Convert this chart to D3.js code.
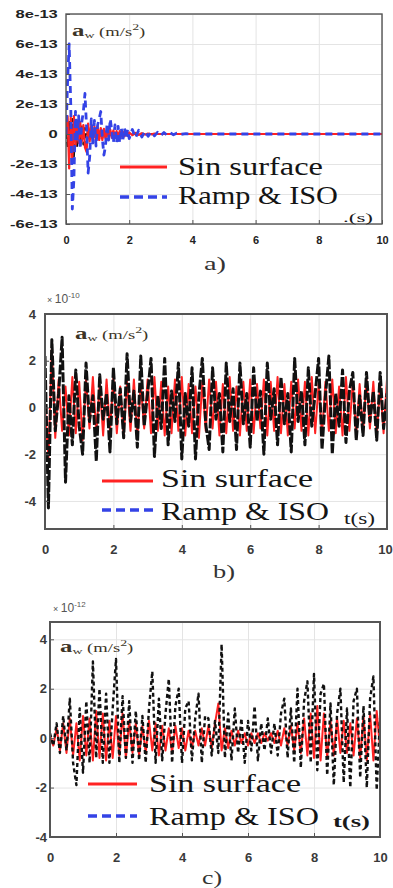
<!DOCTYPE html>
<html>
<head>
<meta charset="utf-8">
<script src="https://cdn.jsdelivr.net/npm/d3@7"></script>
<style>
  body { margin: 0; background: #fff; }
</style>
</head>
<body>
<svg id="chart" width="393" height="888" font-family="'Liberation Sans', Arial, sans-serif"></svg>
<script>
// ---- data ----
const xTicks = [0, 2, 4, 6, 8, 10];
const aYTicks = [-6, -4, -2, 0, 2, 4, 6, 8];      // x 1e-13
const bYTicks = [-4, -2, 0, 2, 4];                // x 1e-10
const cYTicks = [-4, -2, 0, 2, 4];                // x 1e-12
const legendNames = ["Sin surface", "Ramp & ISO"];
const panelCaptions = ["a)", "b)", "c)"];

// panel a : irregular sample times (s), values in 1e-13 m/s2
const aTime = [0, 0.05, 0.1, 0.15, 0.2, 0.25, 0.3, 0.35, 0.4, 0.45,
  0.5, 0.55, 0.6, 0.65, 0.7, 0.75, 0.8, 0.85, 0.9, 0.95,
  1.0, 1.05, 1.1, 1.15, 1.2, 1.25, 1.3, 1.35, 1.4, 1.45,
  1.5, 1.55, 1.6, 1.65, 1.7, 1.75, 1.8, 1.85, 1.9, 1.95,
  2.0, 2.1, 2.2, 2.3, 2.4, 2.5, 2.6, 2.7, 2.8, 2.9,
  3.0, 3.1, 3.2, 3.3, 3.4, 3.5, 3.6, 3.8, 4.0, 5,
  6, 7, 8, 9, 10];
const aIso = [0, 3.5, 6.0, 2.0, -5.0, -3.0, 1.5, -0.5, 1.2, -1.0,
  0.8, 1.5, 2.7, 0.5, -2.6, -1.5, 1.0, -0.6, 0.9, -0.8,
  0.6, 1.0, 1.5, -0.3, -1.4, -0.8, 0.7, -0.4, 1.0, 0.2,
  -0.6, 0.6, -0.6, 0.5, -0.6, 0.4, -0.4, 0.4, -0.3, 0.3,
  -0.3, 0.3, -0.25, 0.25, -0.2, 0.2, -0.15, 0.15, -0.12, 0.12,
  -0.1, 0.1, -0.08, 0.08, -0.05, 0.05, -0.03, 0.02, 0, 0,
  0, 0, 0, 0, 0];
const aSin = [0, 1.2, -2.3, 1.1, -1.8, 1.2, -0.8, 0.9, -0.6, 0.8,
  -0.5, 0.6, -0.9, -1.2, 0.7, -0.5, 0.6, -0.5, 0.5, -0.4,
  0.5, -0.4, 0.4, -0.4, 0.35, -0.3, 0.3, -0.3, 0.3, -0.25,
  0.25, -0.2, 0.2, -0.2, 0.2, -0.15, 0.15, -0.15, 0.12, -0.1,
  0.1, -0.08, 0.08, -0.06, 0.05, -0.04, 0.03, -0.02, 0.02, 0,
  0, 0, 0, 0, 0, 0, 0, 0, 0, 0,
  0, 0, 0, 0, 0];
const aRamp = [0, -0.8, 0.8, -1.2, 1.0, -1.5, 0.7, -0.8, 0.6, -0.6,
  0.5, -0.7, 0.4, -0.8, 0.5, -0.4, 0.4, -0.4, 0.3, -0.3,
  0.3, -0.3, 0.25, -0.25, 0.2, -0.2, 0.2, -0.2, 0.15, -0.15,
  0.15, -0.12, 0.12, -0.1, 0.1, -0.1, 0.08, -0.08, 0.06, -0.06,
  0.05, -0.04, 0.03, -0.02, 0.02, 0, 0, 0, 0, 0,
  0, 0, 0, 0, 0, 0, 0, 0, 0, 0,
  0, 0, 0, 0, 0];

// panels b and c : samples every 0.1 s from 0 to 10 s
const sampleTime = d3.range(101).map(i => i / 10);

// panel b, values in 1e-10 m/s2
const bRamp = [2.2, -4.3, 2.9, -1.0, 0.6, 3.0, -3.2, 0.5, -1.6, 1.6,
  -0.8, -2.0, 1.9, -0.6, 0.5, -2.3, 1.4, -0.5, 0.6, -1.9,
  1.7, -0.7, 0.8, -1.3, 2.3, -0.6, 0.7, -1.7, 2.2, -0.8,
  0.6, 2.1, -2.1, 0.5, -0.9, 2.1, -1.6, 0.7, -0.6, 1.9,
  -2.2, 0.6, -0.8, 1.7, -2.2, 0.5, 2.1, -0.7, -1.8, 1.7,
  -0.5, 0.6, -1.9, 1.9, -0.6, 0.8, -1.8, 1.9, -0.7, 0.6,
  -1.7, 1.7, -0.6, 0.7, -2.0, 1.9, -0.5, 0.8, -1.6, 1.3,
  -0.7, 0.6, -1.9, 2.1, -0.6, 0.7, -1.6, 1.7, -0.8, 0.6,
  2.1, -1.8, 0.5, 2.2, -2.0, 0.6, -0.8, 1.6, -1.5, 0.7,
  1.5, -1.4, 0.5, -1.2, 1.5, -0.6, 0.7, -1.4, 1.5, -0.9,
  0.6];
const bSin = [0, -2.2, 2.5, -1.3, 1.2, -1.0, 0.9, -1.2, 1.3, -1.1,
  1.1, -1.4, 1.2, -0.9, 1.3, -1.1, 1.0, -1.2, 1.2, -1.0,
  1.3, -1.1, 0.9, -1.2, 1.1, -1.0, 1.2, -1.3, 1.0, -0.9,
  1.2, -1.1, 1.3, -1.0, 1.1, -1.2, 0.9, -1.1, 1.2, -1.0,
  1.3, -1.2, 1.0, -1.1, 0.9, -1.3, 1.1, -1.0, 1.2, -0.9,
  1.1, -1.2, 1.0, -1.1, 1.3, -1.0, 0.9, -1.2, 1.1, -1.0,
  1.2, -1.1, 1.0, -0.9, 1.2, -1.2, 1.1, -1.0, 1.3, -1.1,
  1.0, -1.2, 1.1, -0.9, 1.2, -1.0, 1.1, -1.2, 1.3, -1.1,
  1.0, -1.2, 1.1, -1.0, 1.2, -1.1, 0.9, -1.2, 1.3, -1.0,
  1.1, -1.2, 1.0, -1.1, 1.2, -0.9, 1.1, -1.2, 1.0, -1.1,
  1.2];

// panel c, values in 1e-12 m/s2
const cRamp = [0.2, -0.3, 0.6, -0.6, 0.9, -0.5, 1.6, -1.0, -1.9, 1.2,
  -1.4, 1.5, -1.0, 3.1, -0.8, 2.0, -1.0, 1.8, -1.0, 1.2,
  3.2, -1.0, 1.7, -0.8, 1.5, -1.0, 1.1, -0.9, 0.9, -1.0,
  1.2, 2.7, -1.0, 1.6, -0.9, 1.0, 2.4, -1.0, 1.3, 2.0,
  -1.0, 1.2, 1.5, -0.9, 0.8, 1.8, -1.0, 0.9, 0.8, -0.7,
  0.7, -0.6, 3.8, -0.8, 1.0, -0.9, 1.2, -0.6, 0.8, -1.0,
  0.7, -0.5, 1.3, -0.9, 0.6, -0.5, 0.8, -0.6, 0.6, -0.7,
  1.0, 1.6, -0.8, 1.2, -1.0, 2.0, -1.2, 1.5, 2.3, -1.0,
  2.6, -1.3, 1.8, 2.2, -1.5, 1.4, -1.9, 1.0, 2.0, -1.8,
  1.2, -2.0, 1.5, 2.0, -1.6, 1.3, -2.0, 1.6, 2.5, -2.1,
  0.8];
const cSin = [0.1, -0.3, 0.4, -0.5, 0.6, -0.6, 0.8, -0.7, 0.6, -0.9,
  0.9, -0.7, 0.8, -0.9, 1.1, -0.8, 1.0, -0.9, 0.7, -0.8,
  0.9, -0.7, 1.0, -0.8, 0.7, -0.6, 0.6, -0.7, 0.5, -0.6,
  0.7, -0.5, 0.6, -0.7, 0.5, -0.5, 0.4, -0.6, 0.5, -0.4,
  0.4, -0.5, 0.3, -0.4, 0.3, -0.3, 0.4, -0.3, 0.5, -0.4,
  0.6, 1.4, -0.5, 0.4, -0.4, 0.3, -0.3, 0.3, -0.2, 0.2,
  -0.3, 0.2, -0.2, 0.2, -0.2, 0.2, -0.1, 0.2, -0.2, 0.3,
  -0.3, 0.4, -0.3, 0.5, -0.5, 0.6, -0.6, 0.8, -0.7, 1.0,
  -0.8, 1.3, -0.9, 1.0, -0.8, 0.7, -0.7, 0.8, -0.6, 0.7,
  -0.6, 0.6, -0.7, 0.8, -0.8, 0.9, -0.9, 1.0, -0.9, 1.1,
  -0.4];

const RED = "#ff2222", BLUE = "#3443e6", BLACK = "#111";
const SERIF = "'Liberation Serif', 'Times New Roman', serif";

const svg = d3.select("#chart");
svg.append("rect").attr("width", 393).attr("height", 888).attr("fill", "#fff");

const panels = [
  {
    id: "a", left: 66, right: 382, top: 14, bottom: 224, yDomain: [-6, 8], yTicks: aYTicks,
    fmt: d => d === 0 ? "0" : d + "e-13",
    series: [
      { t: aTime, v: aRamp, color: BLACK, width: 2, dash: "5,3" },
      { t: aTime, v: aSin, color: RED, width: 2.2 },
      { t: aTime, v: aIso, color: BLUE, width: 2.8, dash: "7,5" }
    ],
    legend: { lineX: [120, 167], y1: 167, y2: 197, textX: 178, base1: 175, base2: 204, w1: 145, w2: 160 },
    unit: { x: 72, y: 36, w: 78 },
    tlabel: { text: ".(s)", x: 343, y: 222, size: 13, w: 30 },
    caption: { x: 215, y: 270, w: 22 },
    box: 1.4
  },
  {
    id: "b", left: 45, right: 387, top: 314, bottom: 529, yDomain: [-5.2, 4], yTicks: bYTicks,
    fmt: d => d,
    series: [
      { t: sampleTime, v: bSin, color: RED, width: 2 },
      { t: sampleTime, v: bRamp, color: BLACK, width: 3, dash: "10,2" }
    ],
    legend: { lineX: [102, 153], y1: 481, y2: 510, textX: 161, base1: 487, base2: 520, w1: 152, w2: 168 },
    unit: { x: 75, y: 339, w: 80 },
    tlabel: { text: "t(s)", x: 344, y: 524, size: 16, w: 31 },
    exp: { text: "-10", x: 47, y: 303 },
    caption: { x: 224, y: 578, w: 22 },
    box: 2
  },
  {
    id: "c", left: 50, right: 380, top: 622, bottom: 837, yDomain: [-4, 4.7], yTicks: cYTicks,
    fmt: d => d,
    series: [
      { t: sampleTime, v: cSin, color: RED, width: 2 },
      { t: sampleTime, v: cRamp, color: BLACK, width: 2.4, dash: "4,3" }
    ],
    legend: { lineX: [88, 137], y1: 784, y2: 816, textX: 149, base1: 792, base2: 825, w1: 152, w2: 170 },
    unit: { x: 60, y: 652, w: 83 },
    tlabel: { text: "t(s)", x: 333, y: 827, size: 16, w: 37, bold: true },
    exp: { text: "-12", x: 53, y: 612 },
    caption: { x: 212, y: 884, w: 20 },
    box: 2
  }
];

panels.forEach((p, i) => drawPanel(p, i));

function drawPanel(p, idx) {
  const g = svg.append("g");
  const x = d3.scaleLinear().domain([0, 10]).range([p.left, p.right]);
  const y = d3.scaleLinear().domain(p.yDomain).range([p.bottom, p.top]);
  const h = p.bottom - p.top, w = p.right - p.left;

  // grid
  g.append("g").attr("transform", `translate(0,${p.bottom})`)
    .call(d3.axisBottom(x).tickValues(xTicks).tickSize(-h).tickFormat(""))
    .call(s => s.select(".domain").remove())
    .selectAll("line").attr("stroke", "#e4e4e4");
  g.append("g").attr("transform", `translate(${p.left},0)`)
    .call(d3.axisLeft(y).tickValues(p.yTicks).tickSize(-w).tickFormat(""))
    .call(s => s.select(".domain").remove())
    .selectAll("line").attr("stroke", "#e4e4e4");

  // series
  const clipId = "clip-" + p.id;
  svg.append("clipPath").attr("id", clipId).append("rect")
    .attr("x", p.left).attr("y", p.top).attr("width", w).attr("height", h);
  const line = d3.line().x(d => x(d[0])).y(d => y(d[1]));
  const plot = g.append("g").attr("clip-path", `url(#${clipId})`);
  p.series.forEach(s => {
    plot.append("path")
      .datum(s.t.map((t, k) => [t, s.v[k]]))
      .attr("d", line)
      .attr("fill", "none")
      .attr("stroke", s.color)
      .attr("stroke-width", s.width)
      .attr("stroke-linejoin", "round")
      .attr("stroke-dasharray", s.dash || null);
  });

  // axes
  const xa = g.append("g").attr("transform", `translate(0,${p.bottom})`)
    .call(d3.axisBottom(x).tickValues(xTicks).tickSizeInner(-4).tickSizeOuter(0)
      .tickPadding(idx === 0 ? 12 : 16));
  const ya = g.append("g").attr("transform", `translate(${p.left},0)`)
    .call(d3.axisLeft(y).tickValues(p.yTicks).tickFormat(p.fmt).tickSizeInner(-4).tickSizeOuter(0)
      .tickPadding(idx === 0 ? 5 : (idx === 1 ? 9 : 3)));
  [xa, ya].forEach(a => {
    a.select(".domain").remove();
    a.selectAll("line").attr("stroke", "#555");
    a.selectAll("text").attr("font-weight", "bold").attr("fill", idx === 0 ? "#222" : "#3a3a3a")
      .attr("font-size", idx === 0 ? 11 : 13).attr("font-family", null);
  });
  if (idx === 0) {
    ya.selectAll("text").attr("font-size", 10).attr("transform", "scale(1.65,1)");
  }
  // keep the last x label of b inside the page
  if (idx === 1) {
    xa.selectAll("text").filter(d => d === 10).attr("dx", -2);
  }

  // box
  g.append("rect").attr("x", p.left).attr("y", p.top).attr("width", w).attr("height", h)
    .attr("fill", "none").attr("stroke", "#555").attr("stroke-width", p.box);

  // legend
  const L = p.legend;
  g.append("line").attr("x1", L.lineX[0]).attr("x2", L.lineX[1]).attr("y1", L.y1).attr("y2", L.y1)
    .attr("stroke", RED).attr("stroke-width", 3);
  g.append("line").attr("x1", L.lineX[0]).attr("x2", L.lineX[1]).attr("y1", L.y2).attr("y2", L.y2)
    .attr("stroke", BLUE).attr("stroke-width", 3.5).attr("stroke-dasharray", "9,5");
  [[legendNames[0], L.base1, L.w1], [legendNames[1], L.base2, L.w2]].forEach(([t, b, tw]) => {
    g.append("text").attr("x", L.textX).attr("y", b).text(t)
      .style("font-family", SERIF).attr("font-size", 26).attr("fill", "#141414")
      .attr("textLength", tw).attr("lengthAdjust", "spacingAndGlyphs");
  });

  // t(s) label
  const T = p.tlabel;
  g.append("text").attr("x", T.x).attr("y", T.y).text(T.text)
    .style("font-family", SERIF).attr("font-size", T.size).attr("fill", "#1a1a1a")
    .attr("font-weight", T.bold ? "bold" : null)
    .attr("textLength", T.w).attr("lengthAdjust", "spacingAndGlyphs");

  // a_w (m/s^2) label
  const U = p.unit;
  const ut = g.append("g").attr("transform", `translate(${U.x},${U.y}) scale(1.55,1)`)
    .append("text").style("font-family", SERIF).attr("fill", "#3c3426");
  ut.append("tspan").attr("font-size", 16).attr("font-weight", "bold").text("a");
  ut.append("tspan").attr("font-size", 9).attr("dy", 2).text("w");
  ut.append("tspan").attr("font-size", 12).attr("dy", -2).text(" (m/s");
  ut.append("tspan").attr("font-size", 9).attr("dy", -6).text("2");
  ut.append("tspan").attr("font-size", 12).attr("dy", 6).text(")");

  // exponent
  if (p.exp) {
    const et = g.append("text").attr("x", p.exp.x).attr("y", p.exp.y).attr("fill", "#555");
    et.append("tspan").attr("font-size", 9).text("× ");
    et.append("tspan").attr("font-size", 12).text("10");
    et.append("tspan").attr("font-size", 8).attr("dy", -5).text(p.exp.text);
  }

  // caption
  const C = p.caption;
  g.append("text").attr("x", C.x).attr("y", C.y).attr("text-anchor", "middle")
    .style("font-family", SERIF).attr("font-size", 18).attr("fill", "#333")
    .attr("textLength", C.w).attr("lengthAdjust", "spacingAndGlyphs")
    .text(panelCaptions[idx]);
}
</script>
</body>
</html>
